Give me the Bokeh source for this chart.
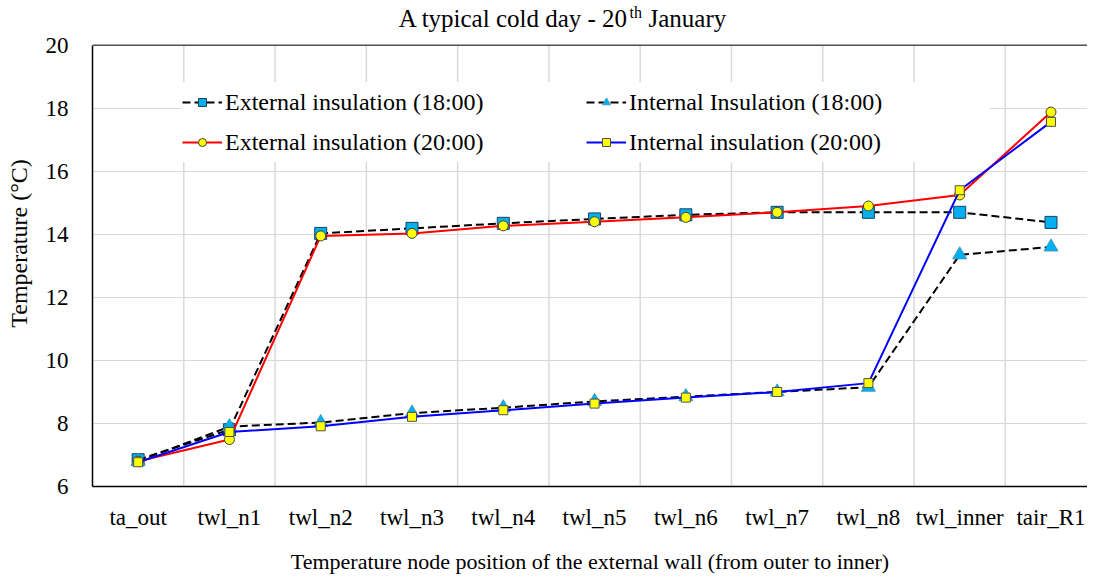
from bokeh.plotting import figure
from bokeh.models import (Range1d, FixedTicker, Legend, LegendItem, Label, Span)
from bokeh.embed import file_html
from bokeh.resources import INLINE

categories = ["ta_out", "twl_n1", "twl_n2", "twl_n3", "twl_n4", "twl_n5",
              "twl_n6", "twl_n7", "twl_n8", "twl_inner", "tair_R1"]
ext_18 = [6.85, 7.80, 14.03, 14.19, 14.35, 14.49, 14.62, 14.70, 14.70, 14.70, 14.38]
int_18 = [6.80, 7.90, 8.03, 8.33, 8.50, 8.70, 8.85, 9.00, 9.15, 13.35, 13.60]
ext_20 = [6.80, 7.49, 13.95, 14.03, 14.27, 14.40, 14.54, 14.70, 14.90, 15.25, 17.88]
int_20 = [6.77, 7.73, 7.91, 8.21, 8.42, 8.63, 8.82, 9.00, 9.28, 15.40, 17.57]
y_ticks = [6, 8, 10, 12, 14, 16, 18, 20]
title_main = "A typical cold day - 20"
title_sup = "th"
title_end = "January"
x_label = "Temperature node position of the external wall (from outer to inner)"
y_label = "Temperature (\u00b0C)"
labels = ["External insulation (18:00)", "Internal Insulation (18:00)",
          "External insulation (20:00)", "Internal insulation (20:00)"]

FONT = "Liberation Serif"
xs = list(range(len(categories)))
y_lo, y_hi = y_ticks[0], y_ticks[-1]
boundaries = [i + 0.5 for i in range(len(categories) - 1)]

# the frame reaches the top of the canvas so that the title can live inside it;
# the axis, grid lines and top rule are limited to the 6..20 data range
p = figure(width=1087, height=576, output_backend="svg", toolbar_location=None,
           x_range=Range1d(-0.5, 10.40), y_range=Range1d(y_lo, 21.42),
           min_border_left=92, min_border_top=0, min_border_bottom=90, min_border_right=0)
p.outline_line_color = None
p.background_fill_color = "white"

# axes
p.xaxis.ticker = FixedTicker(ticks=xs)
p.xaxis.major_label_overrides = {i: c for i, c in enumerate(categories)}
p.yaxis.ticker = FixedTicker(ticks=y_ticks)
p.yaxis.bounds = (y_lo, y_hi)
for ax in (p.xaxis[0], p.yaxis[0]):
    ax.major_tick_line_color = None
    ax.minor_tick_line_color = None
    ax.axis_line_color = "black"
    ax.axis_line_width = 1.5
    ax.major_label_text_font = FONT
    ax.major_label_text_font_size = "23px"
    ax.major_label_text_color = "black"
    ax.axis_label_text_font = FONT
    ax.axis_label_text_font_style = "normal"
    ax.axis_label_text_color = "black"
p.xaxis.axis_label = x_label
p.yaxis.axis_label = y_label
p.xaxis.axis_label_text_font_size = "22px"
p.yaxis.axis_label_text_font_size = "24px"
p.xaxis.major_label_standoff = 12
p.xaxis.axis_label_standoff = 16
p.yaxis.major_label_standoff = 18
p.yaxis.axis_label_standoff = 11

# grids
p.xgrid.visible = False
p.ygrid.grid_line_color = "#d9d9d9"
p.ygrid.grid_line_width = 1
p.segment(x0=boundaries, y0=[y_lo] * len(boundaries), x1=boundaries,
          y1=[y_hi] * len(boundaries), line_color="#d9d9d9", line_width=1.5,
          level="underlay")
p.add_layout(Span(location=y_hi, dimension="width", line_color="#505050", line_width=1.5))

# series
l1 = p.line(xs, ext_18, line_color="black", line_width=2, line_dash="8 4")
m1 = p.scatter(xs, ext_18, marker="square", size=12, fill_color="#00b0f0",
               line_color="#1f3f5f", line_width=1)
l2 = p.line(xs, int_18, line_color="black", line_width=2, line_dash="8 4")
m2 = p.scatter(xs, int_18, marker="triangle", size=14, fill_color="#00b0f0",
               line_color="#3a8fb0", line_width=0.8)
l3 = p.line(xs, ext_20, line_color="#ff0000", line_width=2)
m3 = p.scatter(xs, ext_20, marker="circle", size=10, fill_color="#ffff00",
               line_color="#404040", line_width=1)
l4 = p.line(xs, int_20, line_color="#0000ff", line_width=2)
m4 = p.scatter(xs, int_20, marker="square", size=9, fill_color="#ffff00",
               line_color="#505050", line_width=1)

legend = Legend(items=[
    LegendItem(label=labels[0], renderers=[l1, m1]),
    LegendItem(label=labels[1], renderers=[l2, m2]),
    LegendItem(label=labels[2], renderers=[l3, m3]),
    LegendItem(label=labels[3], renderers=[l4, m4]),
], location=(90, 324), ncols=2, orientation="horizontal",
    label_text_font=FONT, label_text_font_size="24px", label_text_color="black",
    glyph_width=40, glyph_height=20, label_standoff=3, label_width=361,
    label_height=40, spacing=0, padding=10, margin=0,
    border_line_color=None, background_fill_color="white", background_fill_alpha=1.0)
p.add_layout(legend, "center")

# title with superscript, floated a fixed distance above the top rule
xm = 306
p.add_layout(Label(x=xm + 230, y=y_hi, x_units="screen", y_units="data", y_offset=27,
                   text=title_main, text_align="right", text_baseline="alphabetic",
                   text_font=FONT, text_font_size="25px", text_color="black"))
p.add_layout(Label(x=xm + 231, y=y_hi, x_units="screen", y_units="data", y_offset=33,
                   text=title_sup, text_align="left", text_baseline="alphabetic",
                   text_font=FONT, text_font_size="16px", text_color="black"))
p.add_layout(Label(x=xm + 250, y=y_hi, x_units="screen", y_units="data", y_offset=27,
                   text=title_end, text_align="left", text_baseline="alphabetic",
                   text_font=FONT, text_font_size="25px", text_color="black"))

open("out.html", "w").write(file_html(p, INLINE))
